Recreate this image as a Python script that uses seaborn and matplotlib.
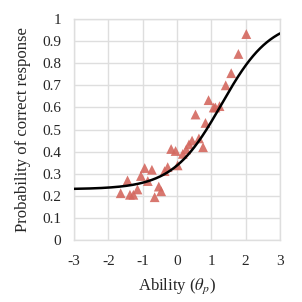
import numpy as np
import pandas as pd
import matplotlib
matplotlib.use('Agg')
import matplotlib.pyplot as plt
import seaborn as sns

# ── Data ─────────────────────────────────────────────────────────
ability = [2.02, 1.79, 1.58, 1.42, 0.92, 1.07, 1.24, 1.12, 0.54, 0.83,
           0.64, 0.44, 0.76, 0.35, 0.27, -0.17, -0.04, 0.17, 0.02, -0.27,
           -0.36, -0.73, -0.94, -1.05, -0.85, -1.44, -1.15, -0.53, -0.46,
           -1.64, -1.37, -1.27, -0.65]
p_correct = [0.932, 0.842, 0.755, 0.70, 0.633, 0.60, 0.606, 0.60, 0.568, 0.53,
             0.46, 0.45, 0.42, 0.433, 0.41, 0.412, 0.403, 0.39, 0.338, 0.33,
             0.312, 0.318, 0.326, 0.29, 0.267, 0.27, 0.229, 0.242, 0.221,
             0.212, 0.205, 0.205, 0.194]

# 3PL item parameters (discrimination, difficulty, guessing)
a_par, b_par, c_par = 1.4, 1.3, 0.23

x_ticks = [-3, -2, -1, 0, 1, 2, 3]
y_ticks = [0, 0.1, 0.2, 0.3, 0.4, 0.5, 0.6, 0.7, 0.8, 0.9, 1]
y_tick_labels = ['0', '0.1', '0.2', '0.3', '0.4', '0.5', '0.6', '0.7', '0.8', '0.9', '1']

sns.set_style('whitegrid')
plt.rcParams['font.family'] = ['Liberation Serif', 'DejaVu Serif']
plt.rcParams['mathtext.fontset'] = 'stix'

theta = np.linspace(-3, 3, 300)
icc = pd.DataFrame({'theta': theta,
                    'p': c_par + (1 - c_par) / (1 + np.exp(-a_par * (theta - b_par)))})
obs = pd.DataFrame({'theta': ability, 'p': p_correct})

fig = plt.figure(figsize=(3.02, 3.02), dpi=100)
ax = fig.add_axes([0.245, 0.205, 0.682, 0.732])

sns.lineplot(data=icc, x='theta', y='p', color='black', linewidth=1.8, ax=ax, zorder=3)
sns.scatterplot(data=obs, x='theta', y='p', marker='^', s=50, color='#d4685f',
                edgecolor='none', alpha=0.9, ax=ax, zorder=2)

ax.set_xlim(-3, 3)
ax.set_ylim(0, 1)
ax.set_xticks(x_ticks)
ax.set_xticklabels([str(t) for t in x_ticks])
ax.set_yticks(y_ticks)
ax.set_yticklabels(y_tick_labels)
ax.tick_params(labelsize=11, length=0)
ax.tick_params(axis='x', pad=11)
ax.tick_params(axis='y', pad=9)
ax.grid(color='#dedede', linewidth=1)
for s in ax.spines.values():
    s.set_color('#dedede')
    s.set_linewidth(1)
ax.set_xlabel(r'Ability ($\theta_p$)', fontsize=12, labelpad=6)
ax.set_ylabel('Probability of correct response', fontsize=12, labelpad=8)

fig.savefig('out.png', dpi=100)
